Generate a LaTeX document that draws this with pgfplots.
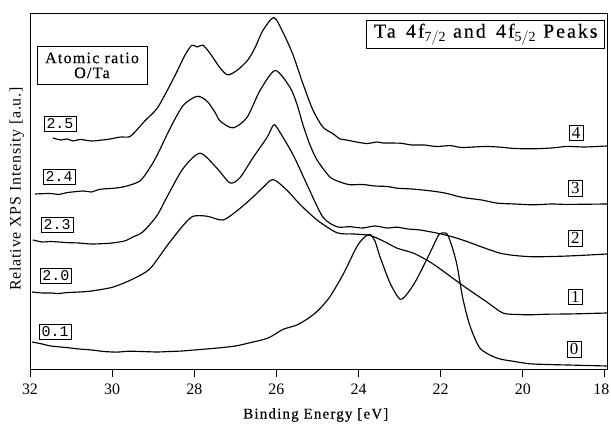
\documentclass[border=0pt]{standalone}
\usepackage{pgfplots}
\pgfplotsset{compat=1.18}
\usepackage{fontspec}
\setmainfont{Liberation Serif}
\newfontfamily\spc[LetterSpace=8,FakeBold=0.4]{Liberation Serif}
\newfontfamily\spt[LetterSpace=10,FakeBold=0.4]{Liberation Serif}
\newfontfamily\spb[LetterSpace=5]{Liberation Serif}
\newfontfamily\mono{Liberation Mono}

\pgfplotstableread{
E v
31.44 231
31.25 229
31.10 230
30.95 228
30.78 229.5
30.50 228
30.30 228.7
30.05 230
29.81 231.9
29.60 232
29.49 235
29.20 248.2
28.91 260.3
28.66 278.4
28.42 297.5
28.23 313.6
28.06 323.7
27.93 322
27.79 323.8
27.62 315.9
27.37 301
27.18 294.1
26.94 299.2
26.69 309.3
26.52 321.3
26.33 338.4
26.06 351.5
25.84 336.6
25.60 314.7
25.35 284.8
25.11 258.9
24.87 242
24.62 235.2
24.45 230
24.33 229.3
24.05 227
23.79 225.5
23.55 227
23.40 226
22.99 225.8
22.70 224
22.40 224
22.10 222.5
21.77 223.4
21.50 221.5
21.20 222
20.90 222.5
20.56 221.9
20.20 220.5
19.75 220.2
19.30 221
18.92 222.6
18.50 222
17.95 223
}\curveFour

\pgfplotstableread{
E v
31.88 175
31.50 175.5
31.30 174.5
31.10 176.4
30.70 178
30.50 177
30.30 179.7
29.90 181
29.64 183
29.32 188.1
29.10 200
28.91 213.3
28.59 240.5
28.27 263.6
27.93 272.7
27.69 267.8
27.50 257
27.37 248
27.06 241.1
26.72 251.3
26.40 278.4
26.03 298.5
25.67 281.7
25.50 264.8
25.35 243.8
25.18 223.9
25.01 209
24.70 192.1
24.45 187
24.21 184.3
23.90 184.5
23.60 183
23.30 182.5
23.06 180.8
22.70 180
22.26 178.2
21.90 176
21.46 171.5
21.00 169
20.63 165.9
20.20 165
19.75 164.2
19.30 165
18.92 164.6
17.95 165
}\curveThree

\pgfplotstableread{
E v
31.93 129
31.70 127
31.50 127.5
31.10 126.4
30.80 126
30.50 125
30.05 125.8
29.70 128
29.49 132.1
29.25 137.2
28.91 153.3
28.66 172.4
28.27 200.6
27.86 215.8
27.45 200.9
27.13 186.1
26.89 191.2
26.57 211.3
26.23 231.5
26.08 243.5
25.99 241.6
25.60 214.7
25.26 184.9
24.87 152
24.52 142.2
24.21 142.3
23.90 141
23.60 143
23.30 141
23.06 141.8
22.80 140
22.50 139
22.02 135.3
21.70 132
21.36 127.5
21.00 122
20.56 115.9
20.20 113.5
19.75 112.2
19.30 112.5
18.90 113
18.40 114
17.95 115
}\curveTwo

\pgfplotstableread{
E v
31.95 77
31.70 76
31.50 76
31.30 75.5
31.10 76.4
30.80 77
30.50 78
29.98 81.9
29.49 90.1
29.08 100.2
28.66 123.4
28.27 143.6
28.03 152.7
27.69 152.8
27.30 149
26.96 158.2
26.64 169.3
26.33 181.4
26.08 189.5
25.74 178.7
25.43 164.8
25.01 149
24.52 136.2
24.10 135
23.72 133.5
23.40 128
23.06 120.8
22.67 116
22.30 108
22.02 100.3
21.46 83.5
20.87 66.8
20.48 55.9
20.10 54.5
19.83 54.2
19.40 54.8
18.90 55
18.40 55.5
17.95 56
}\curveOne

\pgfplotstableread{
E v
31.95 27
31.70 25
31.50 23
31.10 21.4
30.80 20
30.50 19
30.20 17.5
29.88 16.9
29.60 17.8
29.30 17.5
28.90 17
28.66 17.4
28.30 18
28.00 19
27.45 20.9
27.00 23
26.64 26.3
26.20 31
25.84 39.6
25.50 44
25.18 51.9
24.95 60
24.70 72.1
24.38 94.3
24.04 122.4
23.85 132
23.72 134.5
23.60 128
23.48 112.6
23.23 85.7
22.99 69.8
22.80 76
22.58 90
22.26 116.2
22.10 130
22.02 135.3
21.85 135.3
21.72 122
21.60 103.4
21.46 70.5
21.29 43.6
21.04 20.7
20.63 10.9
20.20 7.5
19.83 5.2
19.40 4.5
18.90 4
17.95 3
}\curveZero

\begin{document}
\begin{tikzpicture}
\begin{axis}[
  at={(0,0)}, anchor=south west,
  scale only axis, width=577bp, height=356bp,
  x dir=reverse, xmin=17.95, xmax=32, ymin=0, ymax=356,
  xtick={18,20,...,32}, ytick=\empty,
  xticklabels={\hspace*{-7bp}18,20,22,24,26,28,30,32},
  tick pos=bottom, tick align=outside, major tick length=8bp,
  axis line style={line width=0.8bp},
  every tick/.style={black, line width=0.9bp},
  xticklabel style={font=\fontsize{16}{16}\selectfont, yshift=-3bp},
  clip=false,
]
\pgfplotsset{cv/.style={black, line width=1.15bp, smooth, tension=0.45}}
\addplot[cv] table[x=E,y=v] {\curveFour};
\addplot[cv] table[x=E,y=v] {\curveThree};
\addplot[cv] table[x=E,y=v] {\curveTwo};
\addplot[cv] table[x=E,y=v] {\curveOne};
\addplot[cv] table[x=E,y=v] {\curveZero};

\tikzset{lbl/.style={draw, line width=0.8bp, fill=white, inner sep=2.5bp, font=\mono\fontsize{15}{15}\selectfont},
         rlbl/.style={draw, line width=0.8bp, fill=white, inner xsep=3bp, inner ysep=2bp, font=\fontsize{17}{17}\selectfont}}
\node[lbl] at (axis cs:31.27,245.3) {2.5};
\node[lbl] at (axis cs:31.29,192.3) {2.4};
\node[lbl] at (axis cs:31.34,144.3) {2.3};
\node[lbl] at (axis cs:31.37,93.3) {2.0};
\node[lbl] at (axis cs:31.39,37.3) {0.1};

\node[rlbl] at (axis cs:18.70,235.7) {4};
\node[rlbl] at (axis cs:18.72,180.7) {3};
\node[rlbl] at (axis cs:18.72,130.7) {2};
\node[rlbl] at (axis cs:18.72,71.7) {1};
\node[rlbl] at (axis cs:18.75,19.6) {0};

\node[draw, line width=0.8bp, minimum width=110bp, minimum height=38bp, align=center, inner sep=1bp,
      font=\spc\fontsize{16}{15}\selectfont] at (axis cs:30.49,303.6) {Atomic ratio\\O/Ta};
\node[draw, line width=0.8bp, minimum width=238bp, minimum height=28bp, inner sep=1bp,
      font=\spt\fontsize{20}{20}\selectfont] at (axis cs:20.90,334.7) {Ta\ \,4f$_{\mathrm{7/2}}$ and\ \,4f$_{\mathrm{5/2}}$ Peaks};

\node[font=\spc\fontsize{15}{15}\selectfont] at (axis cs:25.04,-46) {Binding\ Energy\ [eV]};
\node[font=\spb\fontsize{16}{16}\selectfont, rotate=90] at (axis cs:32.32,180) {Relative\ XPS\ Intensity\ [a.u.]};
\end{axis}
\pgfresetboundingbox
\path[use as bounding box] (-30bp,-56bp) rectangle (581bp,369bp);
\end{tikzpicture}
\end{document}
